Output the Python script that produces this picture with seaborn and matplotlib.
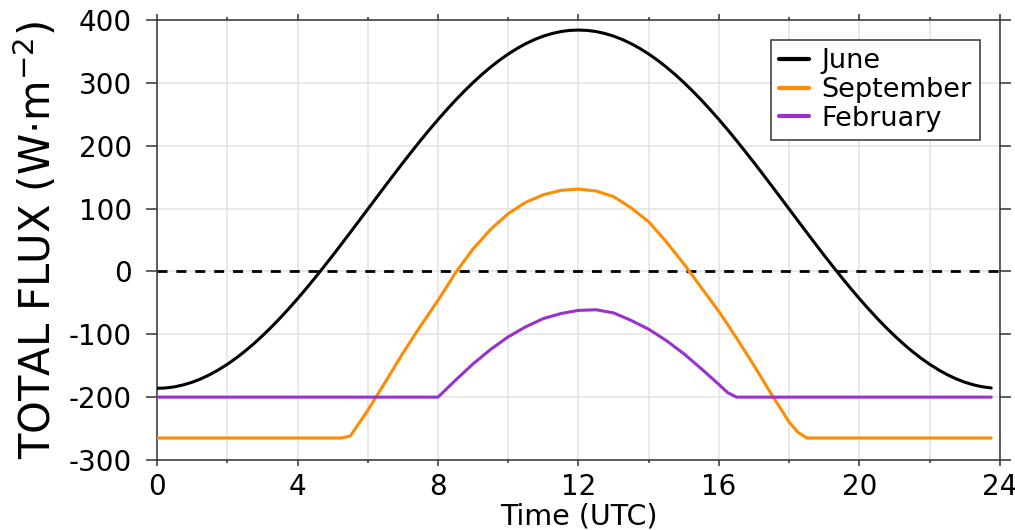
import numpy as np
import pandas as pd
import matplotlib
matplotlib.use("Agg")
import matplotlib.pyplot as plt
import seaborn as sns

# ---- data ----
june_t = [0, 0.25, 0.5, 0.75, 1, 1.25, 1.5, 1.75, 2, 2.25, 2.5, 2.75, 3, 3.25, 3.5, 3.75,
          4, 4.25, 4.5, 4.75, 5, 5.25, 5.5, 5.75, 6, 6.25, 6.5, 6.75, 7, 7.25, 7.5, 7.75,
          8, 8.25, 8.5, 8.75, 9, 9.25, 9.5, 9.75, 10, 10.25, 10.5, 10.75, 11, 11.25, 11.5, 11.75,
          12, 12.25, 12.5, 12.75, 13, 13.25, 13.5, 13.75, 14, 14.25, 14.5, 14.75, 15, 15.25, 15.5, 15.75,
          16, 16.25, 16.5, 16.75, 17, 17.25, 17.5, 17.75, 18, 18.25, 18.5, 18.75, 19, 19.25, 19.5, 19.75,
          20, 20.25, 20.5, 20.75, 21, 21.25, 21.5, 21.75, 22, 22.25, 22.5, 22.75, 23, 23.25, 23.5, 23.75]
june_v = [-186, -185.4, -183.6, -180.5, -176.3, -170.9, -164.3, -156.6,
          -147.8, -138.0, -127.1, -115.3, -102.5, -88.9, -74.5, -59.3,
          -43.5, -27.1, -10.1, 7.4, 25.2, 43.4, 61.8, 80.4,
          99, 117.6, 136.2, 154.6, 172.8, 190.6, 208.1, 225.1,
          241.5, 257.3, 272.5, 286.9, 300.5, 313.3, 325.1, 336.0,
          345.8, 354.6, 362.3, 368.9, 374.3, 378.5, 381.6, 383.4,
          384, 383.4, 381.6, 378.5, 374.3, 368.9, 362.3, 354.6,
          345.8, 336.0, 325.1, 313.3, 300.5, 286.9, 272.5, 257.3,
          241.5, 225.1, 208.1, 190.6, 172.8, 154.6, 136.2, 117.6,
          99, 80.4, 61.8, 43.4, 25.2, 7.4, -10.1, -27.1,
          -43.5, -59.3, -74.5, -88.9, -102.5, -115.3, -127.1, -138.0,
          -147.8, -156.6, -164.3, -170.9, -176.3, -180.5, -183.6, -185.4]

sep_t = [0, 5.25, 5.5, 6, 6.5, 7, 7.5, 8, 8.5, 9, 9.5, 10, 10.5, 11, 11.5, 12,
         12.5, 13, 13.5, 14, 14.5, 15, 15.5, 16, 16.5, 17, 17.5, 18, 18.25, 18.5, 23.75]
sep_v = [-265, -265, -262, -221, -176, -130, -87, -46, -2, 36, 67, 92, 110, 122, 129, 131,
         128, 119, 101, 79, 47, 12, -26, -64, -106, -150, -196, -240, -256, -265, -265]

feb_t = [0, 8, 8.5, 9, 9.5, 10, 10.5, 11, 11.5, 12, 12.5, 13, 13.5, 14, 14.5, 15, 15.5,
         16, 16.25, 16.5, 23.75]
feb_v = [-200, -200, -173, -147, -124, -104, -88, -75, -67, -62, -61, -66, -78, -92, -110,
         -131, -155, -180, -193, -200, -200]

series_names = ["June", "September", "February"]
series_colors = ["black", "darkorange", "darkorchid"]
x_ticks = [0, 4, 8, 12, 16, 20, 24]
y_ticks = [-300, -200, -100, 0, 100, 200, 300, 400]

df = pd.concat([
    pd.DataFrame({"Time": june_t, "Flux": june_v, "Month": "June"}),
    pd.DataFrame({"Time": sep_t, "Flux": sep_v, "Month": "September"}),
    pd.DataFrame({"Time": feb_t, "Flux": feb_v, "Month": "February"}),
], ignore_index=True)

sns.set_style("white")
plt.rcParams["font.family"] = ["DejaVu Sans"]
plt.rcParams["axes.unicode_minus"] = False
plt.rcParams["text.color"] = "black"
plt.rcParams["axes.labelcolor"] = "black"
plt.rcParams["xtick.labelcolor"] = "black"
plt.rcParams["ytick.labelcolor"] = "black"

fig = plt.figure(figsize=(10.15, 5.3), dpi=100)
ax = fig.add_axes([0.1547, 0.1321, 0.8305, 0.8302])

ax.axhline(0, color="black", lw=2, ls=(0, (3.6, 3.2)), zorder=2)

sns.lineplot(data=df, x="Time", y="Flux", hue="Month", hue_order=series_names,
             palette=dict(zip(series_names, series_colors)), lw=2.2, ax=ax,
             zorder=3, estimator=None, sort=True)

ax.set_xlim(0, 24)
ax.set_ylim(-300, 400)
ax.set_xticks(x_ticks)
ax.set_xticks([2, 6, 10, 14, 18, 22], minor=True)
ax.set_yticks(y_ticks)
ax.set_xticklabels([str(t) for t in x_ticks])
ax.set_yticklabels([str(t) for t in y_ticks])

ax.grid(True, which="both", axis="x", color="#e3e3e3", lw=1.1, zorder=0)
ax.grid(True, which="major", axis="y", color="#e3e3e3", lw=1.1, zorder=0)
ax.set_axisbelow(True)

ax.tick_params(axis="y", which="major", direction="out", length=8, width=1.1,
               color="#333333", labelcolor="black", labelsize=20, pad=10,
               left=True, right=True)
ax.tick_params(axis="x", which="major", direction="out", length=4.3, width=1.1,
               color="#333333", labelcolor="black", labelsize=20, pad=5,
               top=True, bottom=True)
ax.tick_params(axis="x", which="minor", direction="out", length=2.2, width=1.1,
               color="#333333", top=True, bottom=True)
for s in ax.spines.values():
    s.set_color("#333333")
    s.set_linewidth(1.1)

ax.set_xlabel("Time (UTC)", fontsize=20.5, labelpad=1, color="black")
ax.set_ylabel("TOTAL FLUX (W·m$^{-2}$)", fontsize=30, labelpad=6, color="black")

leg = ax.legend(loc="upper right", fontsize=19.5, frameon=True, fancybox=False,
                edgecolor="#333333", framealpha=1, handlelength=1.1, borderpad=0.3,
                labelspacing=0.1, handletextpad=0.45, borderaxespad=0.75)
leg.get_frame().set_linewidth(1.1)
for line in leg.get_lines():
    line.set_linewidth(3)
for txt in leg.get_texts():
    txt.set_color("black")

fig.savefig("out.png", dpi=100)
